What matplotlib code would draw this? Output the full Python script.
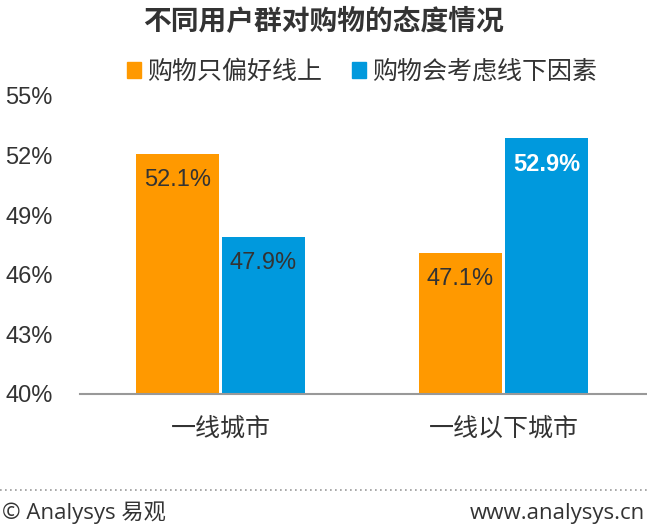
import numpy as np
import matplotlib
matplotlib.use("Agg")
import matplotlib.pyplot as plt
from matplotlib.patches import Patch
from matplotlib.lines import Line2D

plt.rcParams['font.family'] = ['Liberation Sans', 'Noto Sans CJK SC', 'DejaVu Sans']

title = "不同用户群对购物的态度情况"
categories = ["一线城市", "一线以下城市"]
series_names = ["购物只偏好线上", "购物会考虑线下因素"]
online_only = [52.1, 47.1]
offline_too = [47.9, 52.9]
yticks = [40, 43, 46, 49, 52, 55]

orange = "#FF9900"
blue = "#0099DD"
text_col = "#333333"

fig = plt.figure(figsize=(6.47, 5.28), dpi=100)
ax = fig.add_axes([80 / 647, 134 / 528, 567 / 647, 298 / 528])

x = np.arange(len(categories))
w = 0.29
off = 0.152
b1 = ax.bar(x - off, np.array(online_only) - 40, w, bottom=40, color=orange)
b2 = ax.bar(x + off, np.array(offline_too) - 40, w, bottom=40, color=blue)

for i, v in enumerate(online_only):
    ax.annotate(f"{v:.1f}%", (x[i] - off, v), xytext=(0, -19), textcoords="offset points",
                ha="center", va="center", fontsize=17, color=text_col)
for i, v in enumerate(offline_too):
    big = v == max(offline_too)
    ax.annotate(f"{v:.1f}%", (x[i] + off, v), xytext=(0, -19), textcoords="offset points",
                ha="center", va="center", fontsize=17,
                color="white" if big else text_col,
                fontweight="bold" if big else "normal")

ax.set_ylim(40, 55)
ax.set_xlim(-0.4965, -0.4965 + 567 / 283)
ax.set_yticks(yticks)
ax.set_yticklabels([f"{t}%" for t in yticks], ha="left")
ax.set_xticks(x)
ax.set_xticklabels(categories, fontsize=18, color=text_col)
ax.tick_params(axis="y", length=0, pad=54, labelsize=17, labelcolor=text_col)
ax.tick_params(axis="x", length=0, pad=16)
for s in ["top", "right", "left"]:
    ax.spines[s].set_visible(False)
ax.spines["bottom"].set_color("#999999")
ax.spines["bottom"].set_linewidth(1.5)

fig.text(323 / 647, 1 - 22 / 528, title, ha="center", va="center",
         fontsize=20, fontweight="bold", color=text_col)

handles = [Patch(color=orange), Patch(color=blue)]
fig.legend(handles, series_names, loc="center", bbox_to_anchor=(362 / 647, 1 - 72 / 528),
           ncol=2, frameon=False, fontsize=18, handlelength=0.55, handleheight=0.6,
           handletextpad=0.25, columnspacing=1.2, labelcolor=text_col)

fig.add_artist(Line2D([0, 1], [1 - 490 / 528] * 2, transform=fig.transFigure,
                      color="#999999", linestyle=(0, (1, 2)), linewidth=1.2))
fig.text(2 / 647, 1 - 513 / 528, "© Analysys 易观", ha="left", va="center",
         fontsize=16, color=text_col, family=['Open Sans', 'Noto Sans CJK SC'])
fig.text(645 / 647, 1 - 513 / 528, "www.analysys.cn", ha="right", va="center",
         fontsize=16, color=text_col, family=['Open Sans', 'Noto Sans CJK SC'])

fig.savefig("out.png", dpi=100)
